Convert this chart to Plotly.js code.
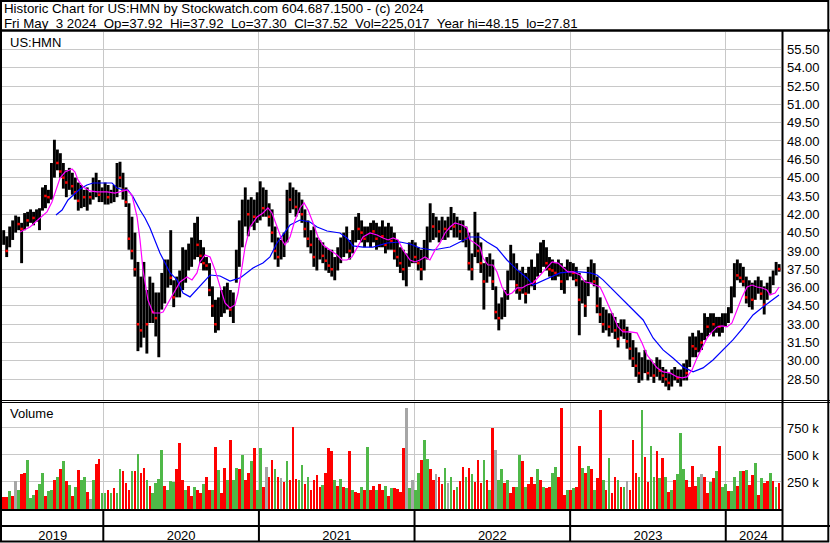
<!DOCTYPE html>
<html><head><meta charset="utf-8">
<script src="https://cdn.plot.ly/plotly-3.0.1.min.js"></script>
<style>html,body{margin:0;padding:0;background:#fff;}#chart{width:830px;height:543px;}</style>
</head><body><div id="chart"></div>
<script>
// ---------------- data ----------------
const headerLine1 = 'Historic Chart for US:HMN by Stockwatch.com 604.687.1500 - (c) 2024';
const headerLine2 = 'Fri May  3 2024  Op=37.92  Hi=37.92  Lo=37.30  Cl=37.52  Vol=225,017  Year hi=48.15  lo=27.81';
const symbolLabel = 'US:HMN';
const volumeLabel = 'Volume';
const yearLabels = [2019, 2020, 2021, 2022, 2023, 2024];
const priceTicks = [28.5,30,31.5,33,34.5,36,37.5,39,40.5,42,43.5,45,46.5,48,49.5,51,52.5,54,55.5];
const volumeTicks = [250, 500, 750];               // thousands of shares
const volumeTickText = ['250 k', '500 k', '750 k'];
const firstWeek = 2019.36;                          // decimal year of first weekly bar
const weekStep = 7 / 365.25;

const high = [
40.7,40.2,41.0,41.5,41.9,41.8,41.3,42.1,42.2,42.4,
42.2,42.4,42.5,44.2,44.4,44.0,46.2,48.1,47.3,47.0,
46.2,45.6,45.8,45.4,45.0,44.6,44.4,44.0,44.2,43.8,
45.0,45.4,44.8,44.2,44.6,44.4,44.0,44.4,46.2,46.3,
45.4,44.2,42.9,41.8,40.5,38.1,36.9,38.1,35.8,36.9,
36.4,35.6,35.6,37.2,38.3,38.3,40.7,36.6,36.9,37.4,
39.3,39.1,39.6,40.1,41.3,41.8,39.9,39.3,38.5,38.0,
36.1,35.0,35.2,35.8,36.1,36.4,35.8,35.6,39.1,41.5,
43.2,44.2,43.2,43.4,43.2,43.8,44.7,44.2,44.0,42.9,
42.4,41.0,40.1,39.9,40.5,44.0,44.6,44.2,44.0,43.8,
43.2,42.4,41.5,40.7,41.0,40.1,39.9,39.7,39.3,39.1,
39.1,38.5,39.3,40.1,40.5,41.0,39.9,40.7,41.8,42.1,
41.5,41.0,41.0,41.3,41.5,41.3,41.0,41.5,41.0,41.3,
41.0,40.5,39.9,39.3,39.1,38.8,39.7,39.9,39.7,39.3,
39.1,39.9,41.0,42.9,42.1,41.8,41.5,41.8,41.5,41.8,
42.6,42.1,41.8,41.5,41.5,41.0,40.5,38.8,42.2,40.5,
39.7,38.0,38.5,38.8,38.3,36.1,34.7,35.2,35.8,37.4,
39.5,38.8,38.0,37.4,37.7,37.2,37.7,38.3,37.7,38.8,
39.7,39.9,39.3,38.5,38.3,38.0,38.3,38.0,37.7,38.3,
38.1,38.0,37.7,37.2,36.6,36.6,37.7,38.3,38.0,36.9,
35.2,34.4,34.2,33.9,33.9,33.6,33.1,33.4,33.4,32.8,
32.3,31.7,31.1,30.7,30.3,30.9,30.1,30.1,29.8,30.3,
30.1,29.5,29.3,29.0,29.3,29.5,29.3,29.3,29.8,30.1,
32.0,32.3,32.0,32.5,32.3,33.9,33.6,33.9,33.9,33.6,
33.6,33.9,33.9,34.4,36.1,38.0,38.3,38.0,37.7,36.9,
36.6,36.4,36.6,36.9,36.6,36.1,36.4,36.9,37.4,38.1,
37.92];

const low = [
39.5,38.5,39.3,39.9,40.5,40.7,38.0,40.7,41.0,41.3,
41.1,41.4,40.7,42.3,42.5,42.9,43.2,45.0,45.6,45.0,
44.1,43.4,44.0,43.6,43.2,42.3,42.5,42.6,42.3,42.8,
43.2,43.4,43.0,43.0,42.8,42.8,42.9,43.0,43.4,44.2,
43.2,42.6,39.1,38.3,36.9,30.8,31.1,31.9,30.6,33.1,
33.1,32.0,30.3,34.2,34.7,36.0,36.2,34.4,35.2,35.2,
35.8,36.4,37.4,37.7,38.3,38.5,38.0,37.4,37.4,35.3,
33.6,32.3,32.5,33.6,33.9,34.2,33.6,33.1,36.4,37.7,
39.3,41.0,40.2,41.0,40.7,41.3,41.5,41.8,41.8,41.0,
39.7,38.3,37.7,38.3,38.5,39.7,42.1,42.4,41.8,42.1,
41.3,40.1,39.3,38.8,37.7,37.4,38.3,38.0,37.4,37.2,
36.9,36.6,37.4,38.0,38.5,38.8,38.3,38.8,39.7,39.9,
39.7,39.3,39.7,39.3,39.7,39.1,39.3,39.3,38.8,39.1,
39.1,38.3,37.7,37.2,36.6,36.1,37.7,38.0,38.0,37.4,
36.6,37.4,38.3,39.7,39.9,40.1,39.7,39.9,39.9,40.1,
40.7,40.1,40.1,39.9,39.7,39.3,37.4,36.6,38.5,38.0,
37.2,34.2,36.4,36.9,35.8,33.4,32.5,33.4,33.6,35.0,
36.6,36.6,35.5,35.0,35.5,34.7,35.5,36.1,35.8,36.9,
37.2,37.7,37.4,36.9,36.6,36.6,36.9,35.8,35.5,36.6,
36.9,36.6,36.1,32.1,34.7,33.6,35.3,36.4,36.1,33.9,
33.1,32.3,32.5,32.0,32.3,31.8,31.1,32.0,31.8,31.0,
30.1,29.5,28.7,28.2,28.4,29.0,28.4,28.7,28.2,28.7,
28.4,28.2,27.9,27.6,27.9,28.4,28.2,27.9,28.4,28.4,
29.5,30.3,30.3,30.7,30.9,31.7,32.0,32.3,32.0,32.3,
32.0,32.3,32.8,33.1,33.9,35.2,36.6,36.4,36.1,34.7,
34.4,34.2,35.0,35.5,35.0,33.8,35.0,35.5,36.2,37.0,
37.30];

const close = [
39.9,39.0,40.6,41.0,41.4,41.2,40.8,41.6,41.5,42.0,
41.7,42.0,42.2,43.8,43.5,43.4,45.8,47.3,46.2,45.5,
45.0,44.6,45.2,44.3,43.8,43.1,43.9,43.4,43.6,43.4,
44.0,44.6,43.6,43.8,44.0,43.4,43.6,44.0,45.5,45.0,
44.0,43.0,40.0,39.0,37.5,33.0,32.5,35.5,33.0,35.0,
34.0,33.5,34.0,35.5,36.5,37.0,36.8,35.2,36.0,36.5,
37.0,38.0,38.8,39.0,40.5,39.5,38.6,38.0,37.8,35.8,
34.5,33.0,34.0,34.8,35.0,35.5,34.2,35.0,38.5,40.5,
42.0,43.0,42.0,42.5,41.8,43.0,43.5,42.5,43.2,41.8,
40.5,39.0,38.5,39.2,39.8,43.5,43.2,43.8,42.6,43.0,
42.0,40.8,40.0,39.5,38.5,38.8,39.0,38.6,38.2,37.8,
37.5,37.6,38.5,39.0,39.8,40.2,39.0,40.0,41.0,40.8,
40.5,40.0,40.4,40.8,40.6,40.0,40.5,40.2,39.5,40.0,
39.8,39.0,38.5,38.0,37.5,37.8,38.8,39.0,38.5,38.0,
37.5,39.0,40.5,41.5,41.0,41.2,40.6,41.0,40.8,41.3,
41.5,41.0,41.2,40.6,41.0,40.0,38.0,37.5,40.0,39.0,
38.0,36.5,37.2,38.0,36.5,34.0,33.5,34.5,35.2,36.8,
37.2,37.8,36.2,35.8,37.0,35.5,36.8,37.5,36.5,38.2,
38.5,38.8,38.0,37.5,37.4,37.2,37.8,36.5,37.0,37.5,
37.5,37.2,36.6,35.0,35.5,34.5,36.8,37.6,36.5,34.5,
33.8,33.0,33.5,32.8,33.2,32.5,31.8,32.8,32.5,31.6,
31.0,30.2,29.6,29.0,29.5,30.2,29.0,29.5,28.8,29.6,
29.2,28.8,28.5,28.2,28.8,29.0,28.6,28.8,29.4,29.0,
31.5,31.2,31.0,31.8,31.5,33.0,32.8,33.2,33.0,33.0,
32.8,33.5,33.5,34.0,35.8,37.2,37.0,36.8,36.5,35.2,
35.5,35.0,36.0,36.2,35.5,34.6,35.8,36.5,37.0,37.6,
37.52];

const volumeK = [
114,110,170,120,260,180,320,330,450,100,
130,180,230,330,120,170,180,270,300,370,
440,260,220,120,200,360,270,300,160,90,
270,420,460,150,150,180,150,190,150,370,
350,240,180,350,350,510,330,380,270,210,
150,240,280,550,210,180,255,250,370,610,
270,180,210,120,200,180,150,230,300,180,
180,570,360,150,380,270,640,270,380,370,
500,270,330,440,560,180,560,200,390,300,
450,370,300,290,250,440,270,760,280,270,
410,230,300,180,270,310,200,220,330,560,
540,270,210,280,200,190,540,180,160,150,
200,180,570,180,210,180,230,180,215,120,
190,190,185,160,560,930,190,270,180,330,
450,640,460,370,270,320,300,230,380,240,
300,180,200,260,390,300,380,320,250,450,
240,450,270,180,750,550,270,370,240,270,
150,200,200,500,440,200,230,300,230,370,
270,200,190,200,330,390,300,930,130,180,
180,190,200,580,380,330,400,370,180,290,
920,270,175,470,150,300,270,200,200,260,
175,640,330,300,920,480,250,580,300,540,
290,470,300,160,175,270,320,700,370,270,
200,400,210,300,320,300,150,250,290,350,
580,200,230,170,170,300,210,350,350,360,
220,310,430,130,290,240,260,330,260,200,
240];

// 1 = up day colour, -1 = down, 0 = unchanged
const volDir = [
-1,-1,1,-1,0,1,-1,-1,1,1,
1,-1,1,1,-1,1,1,-1,1,-1,
1,-1,1,-1,1,-1,1,1,-1,0,
1,-1,-1,1,1,-1,1,-1,1,1,
-1,-1,-1,1,-1,1,-1,-1,1,-1,
1,1,1,1,-1,1,1,1,-1,-1,
-1,1,-1,-1,1,-1,-1,1,-1,-1,
1,-1,1,-1,-1,1,-1,1,1,-1,
1,-1,-1,1,-1,1,1,-1,0,-1,
-1,1,-1,0,-1,1,-1,-1,-1,1,
1,-1,1,-1,-1,-1,-1,1,-1,-1,
-1,1,-1,1,-1,1,-1,1,-1,-1,
1,-1,1,-1,-1,1,-1,-1,1,-1,
1,-1,-1,-1,-1,0,1,0,1,1,
-1,1,1,-1,-1,0,-1,-1,1,0,
1,-1,1,-1,-1,1,-1,1,-1,-1,
-1,1,-1,1,-1,0,1,1,-1,1,
-1,-1,1,1,-1,1,-1,-1,-1,1,
-1,1,-1,-1,1,1,-1,-1,-1,1,
-1,1,-1,-1,1,-1,1,-1,1,-1,
-1,1,-1,1,-1,-1,1,-1,1,0,
-1,-1,-1,1,1,-1,-1,1,1,-1,
1,-1,1,-1,1,-1,1,1,1,-1,
-1,-1,-1,1,0,-1,-1,1,-1,1,
-1,1,1,-1,1,1,-1,1,-1,1,
-1,-1,1,-1,1,-1,-1,1,-1,1,
-1];

// short moving average (magenta)
const maFastT = [2019.465,2019.529,2019.593,2019.638,2019.670,2019.690,2019.722,2019.754,2019.799,2019.818,
2019.837,2019.870,2019.915,2019.960,2020.024,2020.075,2020.120,2020.152,2020.184,2020.217,
2020.236,2020.255,2020.287,2020.319,2020.364,2020.384,2020.416,2020.461,2020.493,2020.538,
2020.570,2020.602,2020.621,2020.654,2020.686,2020.718,2020.750,2020.782,2020.814,2020.846,
2020.866,2020.891,2020.911,2020.943,2020.988,2021.026,2021.058,2021.084,2021.116,2021.148,
2021.168,2021.200,2021.232,2021.264,2021.290,2021.316,2021.348,2021.380,2021.412,2021.457,
2021.502,2021.534,2021.566,2021.598,2021.631,2021.669,2021.714,2021.759,2021.798,2021.830,
2021.862,2021.894,2021.926,2021.971,2022.003,2022.035,2022.067,2022.099,2022.132,2022.164,
2022.196,2022.228,2022.260,2022.305,2022.337,2022.356,2022.388,2022.421,2022.440,2022.472,
2022.504,2022.530,2022.562,2022.594,2022.627,2022.659,2022.691,2022.723,2022.762,2022.807,
2022.852,2022.884,2022.922,2022.954,2022.986,2023.019,2023.064,2023.096,2023.128,2023.160,
2023.192,2023.211,2023.244,2023.276,2023.308,2023.340,2023.385,2023.430,2023.462,2023.494,
2023.526,2023.558,2023.597,2023.642,2023.687,2023.719,2023.751,2023.783,2023.815,2023.848,
2023.880,2023.912,2023.944,2023.976,2024.008,2024.040,2024.072,2024.105,2024.137,2024.169,
2024.201,2024.233,2024.265,2024.284,2024.317,2024.343];
const maFastV = [40.55,40.96,41.70,42.19,43.01,43.83,44.97,45.46,45.71,45.46,
44.81,44.23,43.91,43.83,43.83,43.74,43.91,43.99,43.58,41.78,
39.90,37.45,34.99,33.92,33.92,34.00,34.74,35.81,36.46,36.87,
36.63,37.20,38.10,38.67,38.51,37.45,36.05,34.74,34.33,34.58,
35.56,37.45,39.32,40.96,41.78,42.11,42.52,42.11,40.96,39.90,
39.49,40.14,41.53,42.52,42.93,42.35,41.29,40.14,39.49,39.08,
38.67,38.26,38.26,38.51,39.24,40.14,40.47,40.31,40.06,39.90,
40.06,39.90,39.08,38.26,38.10,38.26,38.51,38.26,39.08,39.65,
40.47,40.96,41.29,41.12,40.88,39.90,39.65,39.32,38.42,37.85,
37.85,37.28,36.05,35.40,35.56,35.97,35.97,36.21,36.38,37.03,
37.69,38.10,38.01,37.61,37.28,37.28,37.03,36.46,36.38,36.21,
36.05,35.56,34.58,33.60,32.78,32.37,32.37,32.29,31.47,30.49,
29.92,29.43,29.10,29.02,28.69,28.61,28.69,29.26,30.24,31.14,
31.88,32.37,32.78,32.86,32.78,33.11,34.17,35.24,36.05,36.21,
36.05,35.97,35.81,35.40,35.56,36.05];

// long moving average (blue)
const maSlowT = [2019.696,2019.735,2019.773,2019.818,2019.850,2019.895,2019.934,2019.998,2020.056,2020.088,
2020.127,2020.159,2020.191,2020.236,2020.268,2020.300,2020.332,2020.364,2020.397,2020.429,
2020.474,2020.512,2020.557,2020.621,2020.686,2020.750,2020.814,2020.879,2020.962,2021.026,
2021.071,2021.116,2021.155,2021.200,2021.264,2021.328,2021.374,2021.438,2021.521,2021.566,
2021.604,2021.669,2021.733,2021.823,2021.907,2021.971,2022.035,2022.119,2022.228,2022.292,
2022.356,2022.421,2022.466,2022.530,2022.594,2022.659,2022.723,2022.762,2022.807,2022.871,
2022.935,2022.999,2023.064,2023.128,2023.173,2023.211,2023.276,2023.340,2023.404,2023.469,
2023.533,2023.597,2023.661,2023.725,2023.790,2023.854,2023.918,2023.982,2024.046,2024.111,
2024.175,2024.239,2024.303,2024.342];
const maSlowV = [41.94,42.35,43.17,43.74,44.07,44.40,44.56,44.56,44.56,44.15,
43.99,43.99,43.42,42.35,41.70,40.88,39.90,38.83,38.01,37.20,
36.63,35.56,35.24,36.13,37.03,36.95,36.54,36.79,37.61,38.01,
38.51,39.65,40.31,41.12,41.53,41.37,40.96,40.63,40.47,40.06,
39.41,39.32,39.32,39.65,39.73,39.57,39.24,39.08,39.32,39.73,
40.14,40.14,39.73,39.24,38.26,37.45,36.79,36.21,36.46,36.79,
37.20,37.28,37.28,37.20,37.03,36.63,35.81,34.99,34.17,33.35,
31.88,30.90,30.24,29.51,29.10,29.43,30.08,30.90,31.72,32.70,
33.76,34.41,34.99,35.40];

// ---------------- build ----------------
const W = 830, H = 543, ML = 2, MR = 49, MT = 32, MB = 34;
const plotW = W - ML - MR, plotH = H - MT - MB;
const px = x => (x - ML) / plotW;          // page pixel -> paper (decorations only)
const py = y => (H - MB - y) / plotH;
const xRange = [2019.349, 2024.355];

const weekT = high.map((_, i) => firstWeek + i * weekStep);
const barX = [], barY = [];
weekT.forEach((t, i) => { barX.push(t, t, null); barY.push(low[i], high[i], null); });
const downX = [], downY = [];
for (let i = 1; i < close.length; i++) if (close[i] < close[i-1]) { downX.push(weekT[i]); downY.push(close[i]); }
const volColors = volDir.map(d => d > 0 ? '#4FB848' : (d < 0 ? '#FF0000' : '#A6A6A6'));

const yearStarts = yearLabels.slice(1);
const yearMids = yearLabels.map(y => (Math.max(y, xRange[0]) + Math.min(y + 1, xRange[1])) / 2);

const FONT = 'Liberation Sans, Arial, sans-serif';
const GRID = '#C8C8C8';

const traces = [
  {type:'scatter', mode:'lines', x:barX, y:barY, line:{color:'#000', width:2.9}, xaxis:'x', yaxis:'y', hoverinfo:'skip'},
  {type:'scatter', mode:'markers', x:downX, y:downY, marker:{symbol:'square', size:2.5, color:'#FF0000'}, xaxis:'x', yaxis:'y'},
  {type:'scatter', mode:'lines', x:maSlowT, y:maSlowV, line:{color:'#0000FF', width:1.2}, xaxis:'x', yaxis:'y'},
  {type:'scatter', mode:'lines', x:maFastT, y:maFastV, line:{color:'#FF00FF', width:1.2}, xaxis:'x', yaxis:'y'},
  {type:'bar', x:weekT, y:volumeK, width:weekStep*0.9, marker:{color:volColors, line:{width:0}}, xaxis:'x2', yaxis:'y2'}
];

function hline(y, x0, x1, w) { return {type:'line', xref:'paper', yref:'paper', x0:px(x0), x1:px(x1), y0:py(y), y1:py(y), line:{color:'#000', width:w}}; }
function vline(x, y0, y1, w) { return {type:'line', xref:'paper', yref:'paper', x0:px(x), x1:px(x), y0:py(y0), y1:py(y1), line:{color:'#000', width:w}}; }

const shapes = [
  {type:'rect', xref:'paper', yref:'paper', x0:px(1), x1:px(828.3), y0:py(541.5), y1:py(1), line:{color:'#000', width:2}},
  hline(30.5, 0, 830, 2.5),
  vline(782.5, 30, 542, 2),
  hline(400.5, 0, 830, 1),
  hline(402.5, 0, 830, 1),
  hline(510, 0, 782, 2),
  hline(526, 0, 830, 2)
];
yearStarts.forEach(y => shapes.push({type:'line', xref:'x2', yref:'paper', x0:y, x1:y, y0:py(510), y1:py(541), line:{color:'#000', width:2}}));

const sp = s => s.replace(/  /g, ' \u00a0');
const annotations = [
  {xref:'paper', yref:'paper', x:px(3), y:py(8.4), xanchor:'left', yanchor:'middle', borderpad:0, text:sp(headerLine1), showarrow:false, font:{family:FONT, size:13.3, color:'#000'}},
  {xref:'paper', yref:'paper', x:px(3), y:py(23.4), xanchor:'left', yanchor:'middle', borderpad:0, text:sp(headerLine2), showarrow:false, font:{family:FONT, size:13.3, color:'#000'}},
  {xref:'paper', yref:'paper', x:px(8), y:py(42), xanchor:'left', yanchor:'middle', text:symbolLabel, showarrow:false, font:{family:FONT, size:13, color:'#000'}},
  {xref:'paper', yref:'paper', x:px(8), y:py(413), xanchor:'left', yanchor:'middle', text:volumeLabel, showarrow:false, font:{family:FONT, size:13, color:'#000'}}
];

const layout = {
  width: W, height: H,
  margin: {l:ML, r:MR, t:MT, b:MB, pad:0},
  paper_bgcolor:'#FFFFFF', plot_bgcolor:'#FFFFFF',
  showlegend:false, hovermode:false,
  font:{family:FONT, size:13, color:'#000'},
  bargap:0,
  xaxis:{domain:[0,1], range:xRange, anchor:'y', tickmode:'array', tickvals:yearStarts, showticklabels:false,
         showgrid:true, gridcolor:GRID, gridwidth:1, zeroline:false, showline:false, ticks:''},
  xaxis2:{domain:[0,1], range:xRange, anchor:'y2', tickmode:'array', tickvals:yearMids, ticktext:yearLabels.map(String),
         showgrid:false, zeroline:false, showline:false, ticks:'', ticklabelstandoff:17,
         tickfont:{family:FONT, size:13, color:'#000'},
         minor:{tickmode:'array', tickvals:yearStarts, showgrid:true, gridcolor:GRID, gridwidth:1, ticks:''}},
  yaxis:{domain:[py(400), 1], range:[26.80, 56.92], anchor:'x', side:'right', tickmode:'array', tickvals:priceTicks,
         ticktext:priceTicks.map(v => v.toFixed(2)), showgrid:true, gridcolor:GRID, gridwidth:1, zeroline:false, showline:false,
         ticks:'', ticklabelstandoff:5, tickfont:{family:FONT, size:13, color:'#000'}},
  yaxis2:{domain:[0, py(402)], range:[0, 990], anchor:'x2', side:'right', tickmode:'array', tickvals:volumeTicks,
         ticktext:volumeTickText, showgrid:true, gridcolor:GRID, gridwidth:1, zeroline:false, showline:false,
         ticks:'', ticklabelstandoff:5, tickfont:{family:FONT, size:13, color:'#000'}},
  shapes: shapes,
  annotations: annotations
};

Plotly.newPlot('chart', traces, layout, {staticPlot:true, displayModeBar:false});
</script>
</body></html>
